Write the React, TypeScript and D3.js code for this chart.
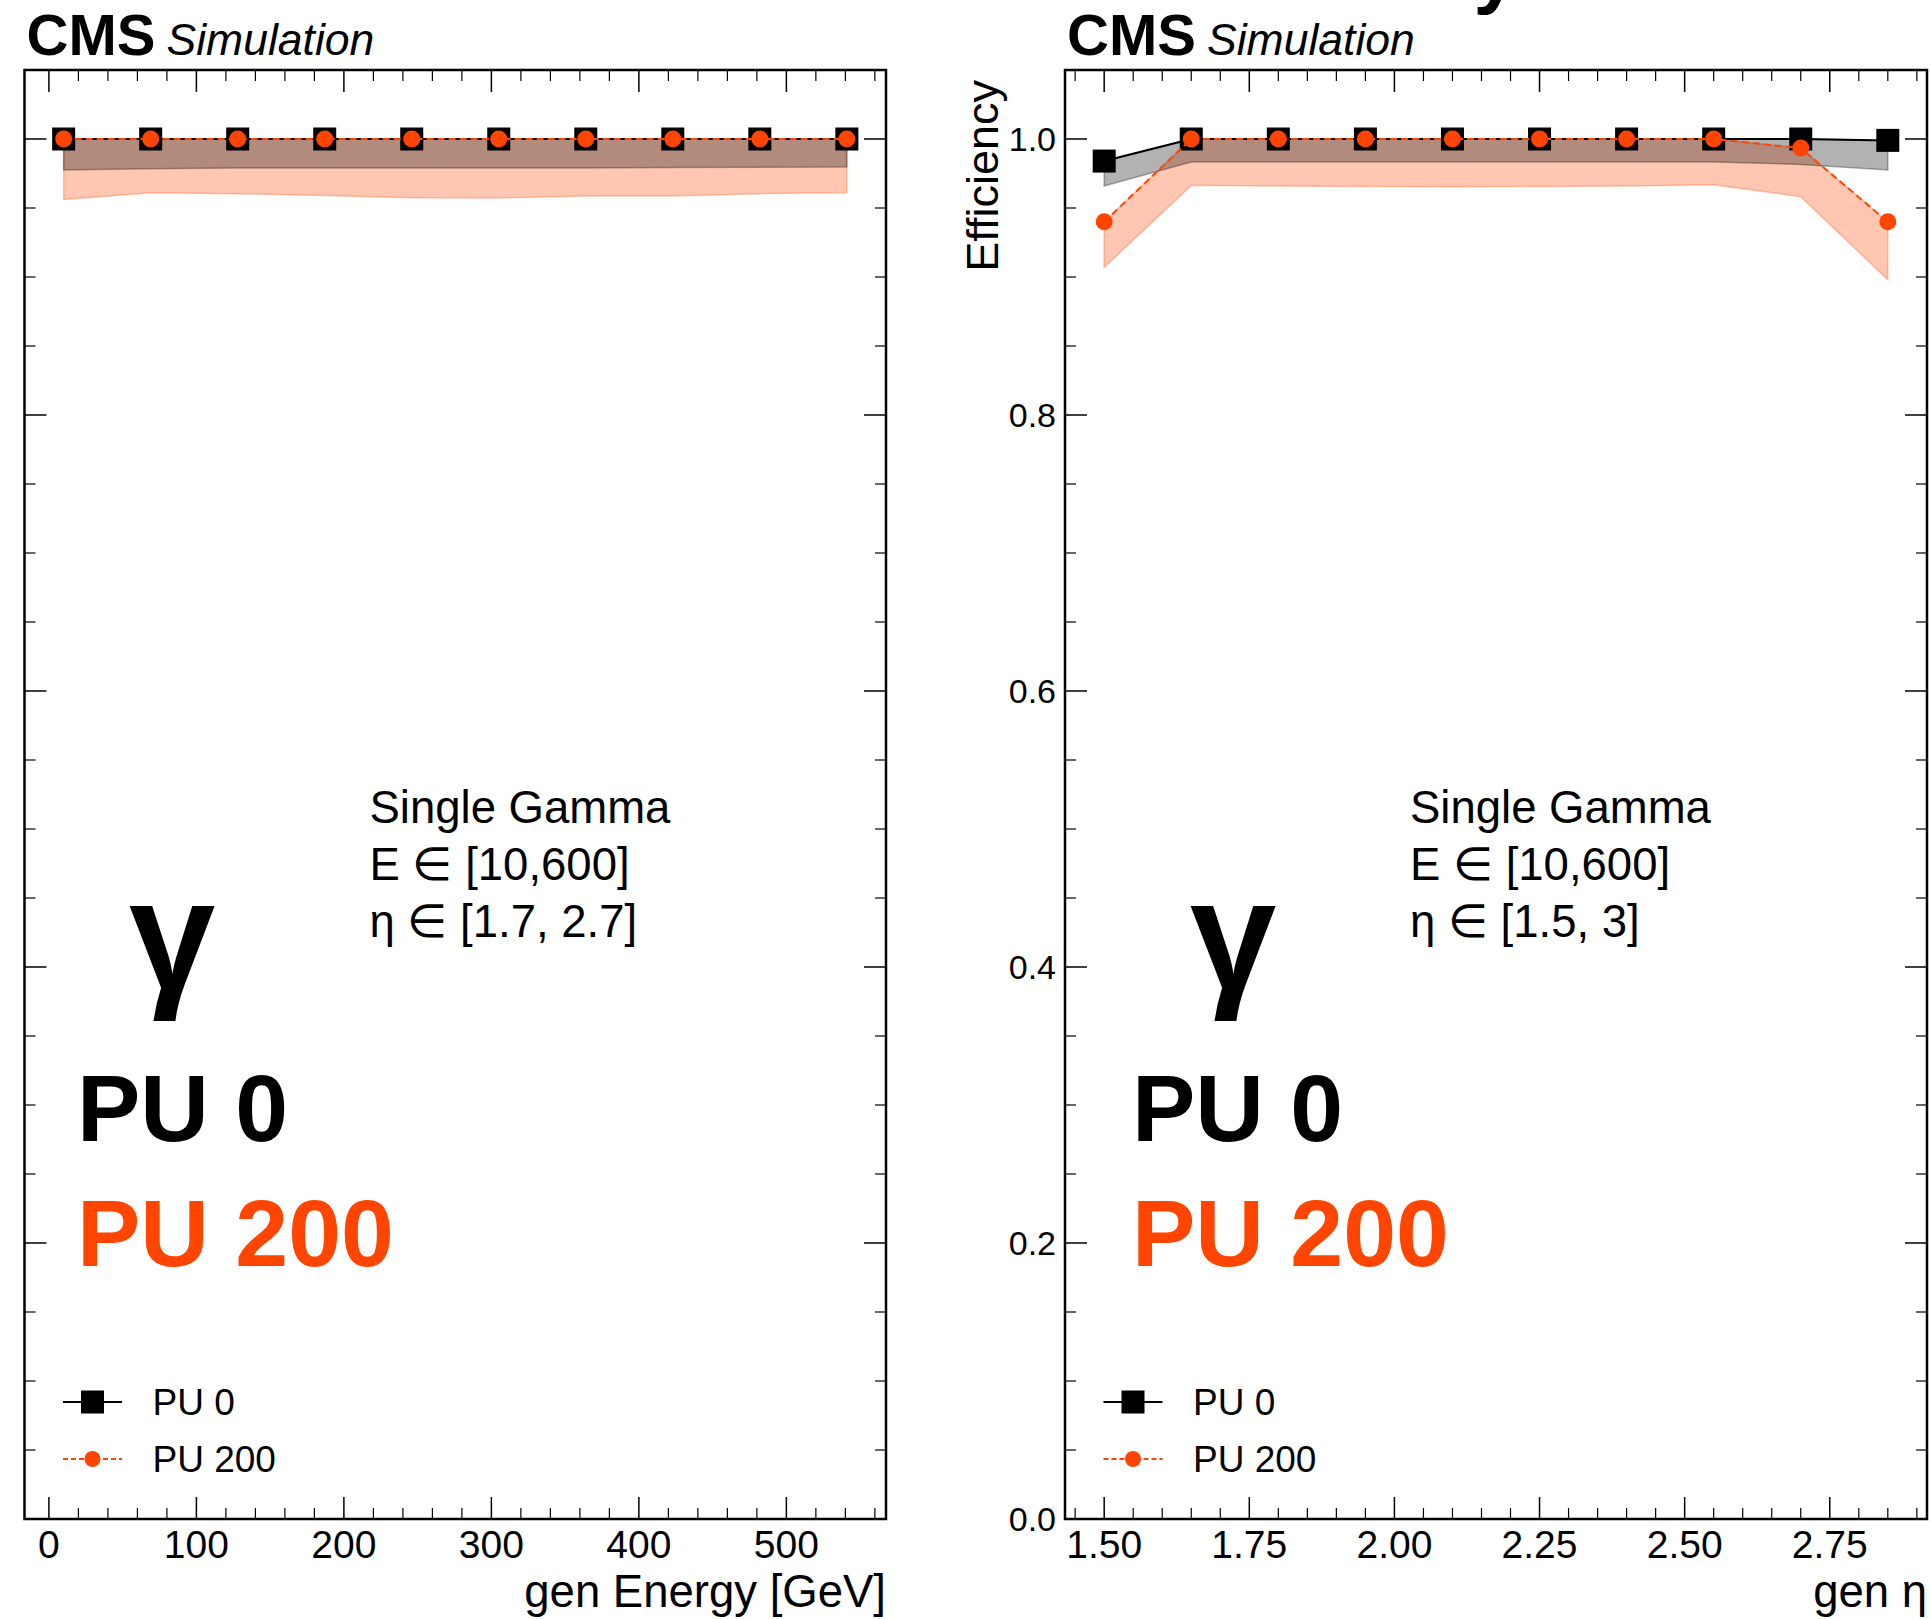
import React from 'react';
import * as d3 from 'd3';

// bin left edges
const energyBins = [10, 69, 128, 187, 246, 305, 364, 423, 482, 541];
const etaBins = [1.5, 1.65, 1.8, 1.95, 2.1, 2.25, 2.4, 2.55, 2.7, 2.85];

// efficiency vs gen energy
const enPU0 = [1, 1, 1, 1, 1, 1, 1, 1, 1, 1];
const enPU0Lo = [0.9775, 0.9785, 0.979, 0.979, 0.979, 0.979, 0.979, 0.9793, 0.9795, 0.9797];
const enPU0Hi = [1, 1, 1, 1, 1, 1, 1, 1, 1, 1];
const enPU200 = [1, 1, 1, 1, 1, 1, 1, 1, 1, 1];
const enPU200Lo = [0.9562, 0.9611, 0.9604, 0.9591, 0.9575, 0.9572, 0.9587, 0.9587, 0.9604, 0.9611];
const enPU200Hi = [1, 1, 1, 1, 1, 1, 1, 1, 1, 1];

// efficiency vs gen eta
const etaPU0 = [0.984, 1, 1, 1, 1, 1, 1, 1, 1, 0.999];
const etaPU0Lo = [0.966, 0.9833, 0.9833, 0.9833, 0.9833, 0.9833, 0.9833, 0.9833, 0.9816, 0.9775];
const etaPU0Hi = [1, 1, 1, 1, 1, 1, 1, 1, 1, 1];
const etaPU200 = [0.94, 1, 1, 1, 1, 1, 1, 1, 0.9934, 0.94];
const etaPU200Lo = [0.907, 0.9664, 0.9659, 0.9656, 0.9654, 0.9656, 0.9659, 0.9669, 0.9582, 0.898];
const etaPU200Hi = [0.973, 1, 1, 1, 1, 1, 1, 1, 0.999, 0.982];

const legendLabels = ['PU 0', 'PU 200'];
const yTicks = [0, 0.2, 0.4, 0.6, 0.8, 1.0];

const FONT = '"Liberation Sans", Arial, Helvetica, sans-serif';
const ORANGE = '#ff4500';
const top = 70, bottom = 1519;

const yScale = d3.scaleLinear().domain([0, 1.05]).range([bottom, top]);

const range = (a, b, s) => d3.range(Math.round(a / s), Math.round(b / s) + 1).map(k => +(k * s).toFixed(4));

const Panel = ({ left, right, domain, majors, minors, fmt, xlabel, bins, pu0, pu200, annot, gammaX, puX, showY }) => {
  const x = d3.scaleLinear().domain(domain).range([left, right]);
  const band = d3.area().x(d => x(d[0])).y0(d => yScale(d[1])).y1(d => yScale(d[2]));
  const line = d3.line().x(d => x(d[0])).y(d => yScale(d[1]));
  const pts = (s) => bins.map((b, i) => [b, s.val[i], s.lo[i], s.hi[i]]);
  const p0 = pts(pu0), p200 = pts(pu200);
  const yMinors = range(0.05, 1.0, 0.05).filter(v => !yTicks.some(t => Math.abs(t - v) < 1e-6));
  const xMin = minors.filter(v => v > domain[0] && v < domain[1] && !majors.some(t => Math.abs(t - v) < 1e-6));

  return (
    <g>
      <text x={left + 2} y={55} style={{ fontFamily: FONT, fontWeight: 'bold', fontSize: 58 }}>CMS</text>
      <text x={left + 142} y={55} style={{ fontFamily: FONT, fontStyle: 'italic', fontSize: 44.5 }}>Simulation</text>

      {/* uncertainty bands */}
      <path d={band(p200)} fill={ORANGE} fillOpacity={0.3} stroke={ORANGE} strokeOpacity={0.3} strokeWidth={1.5} />
      <path d={band(p0)} fill="#000" fillOpacity={0.3} stroke="#000" strokeOpacity={0.3} strokeWidth={1.5} />

      <path d={line(p0)} fill="none" stroke="#000" strokeWidth={2} />
      {p0.map((d, i) => (
        <rect key={'s' + i} x={x(d[0]) - 11.5} y={yScale(d[1]) - 11.5} width={23} height={23} fill="#000" />
      ))}
      <path d={line(p200)} fill="none" stroke={ORANGE} strokeWidth={2} strokeDasharray="7,4" />
      {p200.map((d, i) => (
        <circle key={'c' + i} cx={x(d[0])} cy={yScale(d[1])} r={8.5} fill={ORANGE} />
      ))}

      {/* ticks, all sides, inward */}
      {majors.map(t => (
        <g key={'xm' + t}>
          <line x1={x(t)} x2={x(t)} y1={bottom} y2={bottom - 22} stroke="#000" strokeWidth={1.5} />
          <line x1={x(t)} x2={x(t)} y1={top} y2={top + 22} stroke="#000" strokeWidth={1.5} />
          <text x={x(t)} y={1558} textAnchor="middle" style={{ fontFamily: FONT, fontSize: 39 }}>{fmt(t)}</text>
        </g>
      ))}
      {xMin.map(t => (
        <g key={'xn' + t}>
          <line x1={x(t)} x2={x(t)} y1={bottom} y2={bottom - 11} stroke="#000" strokeWidth={1.2} />
          <line x1={x(t)} x2={x(t)} y1={top} y2={top + 11} stroke="#000" strokeWidth={1.2} />
        </g>
      ))}
      {yTicks.map(t => (
        <g key={'ym' + t}>
          <line x1={left} x2={left + 22} y1={yScale(t)} y2={yScale(t)} stroke="#000" strokeWidth={1.5} />
          <line x1={right} x2={right - 22} y1={yScale(t)} y2={yScale(t)} stroke="#000" strokeWidth={1.5} />
          {showY && (
            <text x={left - 9} y={yScale(t)} dy="0.36em" textAnchor="end" style={{ fontFamily: FONT, fontSize: 34 }}>{t.toFixed(1)}</text>
          )}
        </g>
      ))}
      {yMinors.map(t => (
        <g key={'yn' + t}>
          <line x1={left} x2={left + 11} y1={yScale(t)} y2={yScale(t)} stroke="#000" strokeWidth={1.2} />
          <line x1={right} x2={right - 11} y1={yScale(t)} y2={yScale(t)} stroke="#000" strokeWidth={1.2} />
        </g>
      ))}
      <rect x={left} y={top} width={right - left} height={bottom - top} fill="none" stroke="#000" strokeWidth={2.5} />

      <text x={right} y={1607} textAnchor="end" style={{ fontFamily: FONT, fontSize: 45.5 }}>{xlabel}</text>
      {showY && (
        <text transform={`translate(998,80) rotate(-90)`} textAnchor="end" style={{ fontFamily: FONT, fontSize: 45 }}>Efficiency</text>
      )}

      {/* annotations */}
      {annot.map((s, i) => (
        <text key={'a' + i} x={left + 345} y={823 + i * 57} style={{ fontFamily: FONT, fontSize: 45.5 }}>{s}</text>
      ))}
      <text x={gammaX} y={989} style={{ fontFamily: FONT, fontWeight: 'bold', fontSize: 155 }}>γ</text>
      <text x={puX} y={1141} style={{ fontFamily: FONT, fontWeight: 'bold', fontSize: 95, fill: '#000' }}>PU 0</text>
      <text x={puX} y={1266} style={{ fontFamily: FONT, fontWeight: 'bold', fontSize: 95, fill: ORANGE }}>PU 200</text>

      {/* legend */}
      <line x1={left + 38.5} x2={left + 97.5} y1={1402} y2={1402} stroke="#000" strokeWidth={2} />
      <rect x={left + 68 - 11.5} y={1402 - 11.5} width={23} height={23} fill="#000" />
      <text x={left + 128} y={1402} dy="0.36em" style={{ fontFamily: FONT, fontSize: 37 }}>{legendLabels[0]}</text>
      <line x1={left + 38.5} x2={left + 97.5} y1={1459} y2={1459} stroke={ORANGE} strokeWidth={2} strokeDasharray="5,3" />
      <circle cx={left + 68} cy={1459} r={8} fill={ORANGE} />
      <text x={left + 128} y={1459} dy="0.36em" style={{ fontFamily: FONT, fontSize: 37 }}>{legendLabels[1]}</text>
    </g>
  );
};

const App = () => {
  return (
    <svg width={1931} height={1619} style={{ position: 'absolute', left: 0, top: 0, background: '#fff' }}>
      <rect width={1931} height={1619} fill="#fff" />
      {/* figure title, mostly above the cropped picture edge */}
      <text x={1518} y={-2} textAnchor="end" style={{ fontFamily: FONT, fontWeight: 'bold', fontSize: 80 }}>Efficiency</text>
      <Panel
        left={24.5} right={886}
        domain={[-16.55, 567.55]}
        majors={range(0, 500, 100)} minors={range(0, 560, 20)} fmt={d3.format('d')}
        xlabel="gen Energy [GeV]"
        bins={energyBins}
        pu0={{ val: enPU0, lo: enPU0Lo, hi: enPU0Hi }}
        pu200={{ val: enPU200, lo: enPU200Lo, hi: enPU200Hi }}
        annot={['Single Gamma', 'E ∈ [10,600]', 'η ∈ [1.7, 2.7]']}
        gammaX={129} puX={77} showY={false}
      />
      <Panel
        left={1065} right={1927}
        domain={[1.4325, 2.9175]}
        majors={range(1.5, 2.75, 0.25)} minors={range(1.45, 2.9, 0.05)} fmt={d3.format('.2f')}
        xlabel="gen η"
        bins={etaBins}
        pu0={{ val: etaPU0, lo: etaPU0Lo, hi: etaPU0Hi }}
        pu200={{ val: etaPU200, lo: etaPU200Lo, hi: etaPU200Hi }}
        annot={['Single Gamma', 'E ∈ [10,600]', 'η ∈ [1.5, 3]']}
        gammaX={1190} puX={1132} showY={true}
      />
    </svg>
  );
};

export default App;
